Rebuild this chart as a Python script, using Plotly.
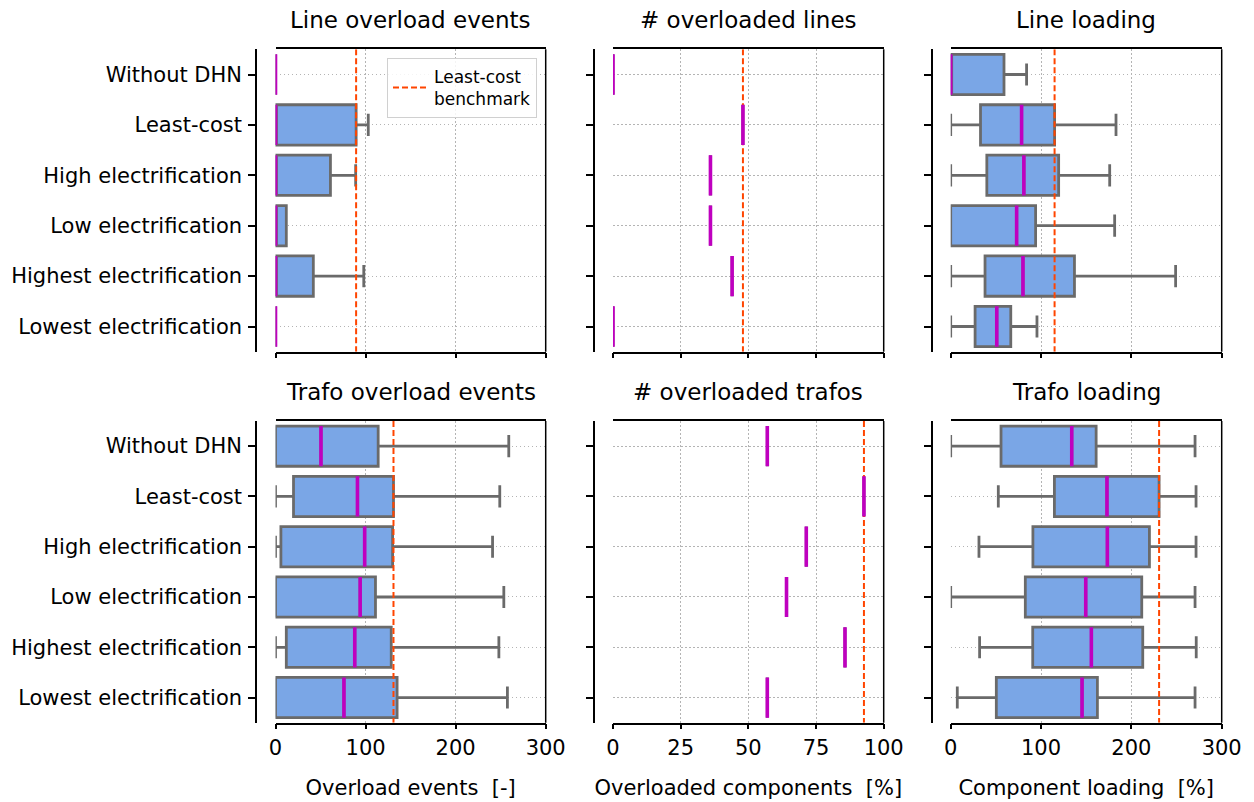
import plotly.graph_objects as go

# ---------------- data ----------------
categories = ["Without DHN", "Least-cost", "High electrification",
              "Low electrification", "Highest electrification", "Lowest electrification"]

titles = ["Line overload events", "# overloaded lines", "Line loading",
          "Trafo overload events", "# overloaded trafos", "Trafo loading"]
x_titles = ["Overload events\u00a0 [-]", "Overloaded components\u00a0 [%]", "Component loading\u00a0 [%]"]
x_ranges = [[0, 300], [0, 100], [0, 300]]
x_ticks = [[0, 100, 200, 300], [0, 25, 50, 75, 100], [0, 100, 200, 300]]

# Line overload events
line_ev_lo = [0, 0, 0, 0, 0, 0]
line_ev_q1 = [0, 0, 0, 0, 0, 0]
line_ev_med = [0, 0, 0, 0, 0, 0]
line_ev_q3 = [0, 89.5, 61, 12, 42, 0]
line_ev_hi = [0, 103, 89, 12, 98, 0]
line_ev_bench = 89.5

# # overloaded lines [%]
line_cnt = [0, 48, 36, 36, 44, 0]
line_cnt_bench = 48

# Line loading [%]
line_ld_lo = [0, 0, 0, 0, 0, 0]
line_ld_q1 = [0, 33, 40, 0, 38, 27]
line_ld_med = [0, 78.5, 81, 73, 80, 51]
line_ld_q3 = [59, 115, 119.5, 94, 137, 66.5]
line_ld_hi = [84, 183, 176, 181.5, 249, 95.5]
line_ld_bench = 115

# Trafo overload events
trafo_ev_lo = [0, 0, 0, 0, 0, 0]
trafo_ev_q1 = [0, 20, 6, 0, 12, 0]
trafo_ev_med = [50.5, 91, 99, 94, 88, 76]
trafo_ev_q3 = [114, 131, 130, 111, 128.5, 135]
trafo_ev_hi = [259, 249, 241, 253.5, 248, 257.5]
trafo_ev_bench = 131

# # overloaded trafos [%]
trafo_cnt = [57, 92.7, 71.4, 64.1, 85.7, 57]
trafo_cnt_bench = 92.7

# Trafo loading [%]
trafo_ld_lo = [0, 52.7, 31.3, 0, 32, 7.3]
trafo_ld_q1 = [55.7, 114.8, 91, 82.6, 90.8, 50.5]
trafo_ld_med = [134, 173, 173.4, 149.5, 155.7, 145.4]
trafo_ld_q3 = [161, 230.7, 220, 211.5, 212.6, 162.4]
trafo_ld_hi = [270.5, 271.6, 271.6, 270.5, 271.8, 270.5]
trafo_ld_bench = 230.7

panels = [
    (line_ev_lo, line_ev_q1, line_ev_med, line_ev_q3, line_ev_hi, line_ev_bench),
    (line_cnt, line_cnt, line_cnt, line_cnt, line_cnt, line_cnt_bench),
    (line_ld_lo, line_ld_q1, line_ld_med, line_ld_q3, line_ld_hi, line_ld_bench),
    (trafo_ev_lo, trafo_ev_q1, trafo_ev_med, trafo_ev_q3, trafo_ev_hi, trafo_ev_bench),
    (trafo_cnt, trafo_cnt, trafo_cnt, trafo_cnt, trafo_cnt, trafo_cnt_bench),
    (trafo_ld_lo, trafo_ld_q1, trafo_ld_med, trafo_ld_q3, trafo_ld_hi, trafo_ld_bench),
]

# ---------------- style ----------------
W, H = 1254, 802
FONT = "DejaVu Sans"
BOX_FILL = "#7aa6e6"
EDGE = "#6a6a6a"
MEDIAN = "#bf00bf"
BENCH = "#ff4500"
GRID = "#b4b4b4"
GRID_DASH = "1.5px,2.5px"

col_px = [(275.5, 545.7), (613.0, 883.7), (950.7, 1221.7)]
spine_px = [256.0, 593.5, 931.5]
row_px = [(49.3, 351.7), (421.0, 722.7)]

pos = list(range(len(categories)))
fig = go.Figure()
layout = dict(width=W, height=H, margin=dict(l=0, r=0, t=0, b=0, autoexpand=False),
              paper_bgcolor="white", plot_bgcolor="white",
              font=dict(family=FONT, size=21, color="black"),
              showlegend=True)
annotations = []
shapes = []

for k, (lo, q1, med, q3, hi, bench) in enumerate(panels):
    r, c = divmod(k, 3)
    n = k + 1
    xa = "x" if n == 1 else f"x{n}"
    ya = "y" if n == 1 else f"y{n}"
    xkey = "xaxis" if n == 1 else f"xaxis{n}"
    ykey = "yaxis" if n == 1 else f"yaxis{n}"

    fig.add_trace(go.Box(
        orientation="h", y=pos, q1=q1, median=med, q3=q3,
        lowerfence=lo, upperfence=hi, width=0.8, whiskerwidth=0.55,
        fillcolor=BOX_FILL, line=dict(color=EDGE, width=2.8),
        boxpoints=False, showlegend=False, hoverinfo="skip",
        xaxis=xa, yaxis=ya))

    fig.add_trace(go.Scatter(
        x=[bench, bench], y=[-0.5, 5.5], mode="lines",
        line=dict(color=BENCH, width=2, dash="6px,3px"),
        name="Least-cost<br>benchmark", showlegend=(k == 0),
        hoverinfo="skip", xaxis=xa, yaxis=ya))

    mx, my = [], []
    for i, m in enumerate(med):
        mx += [m, m, None]
        my += [i - 0.4, i + 0.4, None]
    fig.add_trace(go.Scatter(
        x=mx, y=my, mode="lines", line=dict(color=MEDIAN, width=3.6),
        showlegend=False, hoverinfo="skip", xaxis=xa, yaxis=ya))

    x0, x1 = col_px[c]
    ytop, ybot = row_px[r]
    layout[xkey] = dict(
        domain=[x0 / W, x1 / W], anchor=ya, range=x_ranges[c],
        tickvals=x_ticks[c], showticklabels=(r == 1),
        ticks="outside", ticklen=5, tickwidth=1.5, tickcolor="black",
        showline=True, linecolor="black", linewidth=1.5, mirror=True,
        showgrid=True, gridcolor=GRID, griddash=GRID_DASH, gridwidth=1.1,
        zeroline=False, tickfont=dict(size=21), automargin=False,
        title=dict(text=x_titles[c] if r == 1 else "", standoff=22,
                   font=dict(size=21)))
    layout[ykey] = dict(
        domain=[1 - ybot / H, 1 - ytop / H], anchor="free",
        position=spine_px[c] / W, range=[5.5, -0.5],
        tickvals=pos, ticktext=categories, showticklabels=(c == 0),
        ticks="outside", ticklen=7, tickwidth=1.5, tickcolor="black",
        ticklabelstandoff=2, automargin=False,
        showline=True, linecolor="black", linewidth=1.5,
        showgrid=True, gridcolor=GRID, griddash=GRID_DASH, gridwidth=1.1,
        zeroline=False, tickfont=dict(size=21))

    shapes.append(dict(type="line", xref=f"{xa} domain", yref=f"{ya} domain",
                       x0=1, x1=1, y0=0, y1=1,
                       line=dict(color="black", width=1.5)))
    annotations.append(dict(
        text=titles[k], x=(x0 + x1) / 2 / W, y=1 - (ytop - 29) / H,
        xref="paper", yref="paper", xanchor="center", yanchor="middle",
        showarrow=False, font=dict(size=23)))

layout["annotations"] = annotations
layout["shapes"] = shapes
layout["legend"] = dict(
    x=537 / W, y=1 - 58 / H, xanchor="right", yanchor="top",
    bgcolor="rgba(255,255,255,0.85)", bordercolor="#d0d0d0", borderwidth=1,
    font=dict(size=17), valign="middle", tracegroupgap=0, itemwidth=36)
fig.update_layout(**layout)

fig.write_html("out.html")
